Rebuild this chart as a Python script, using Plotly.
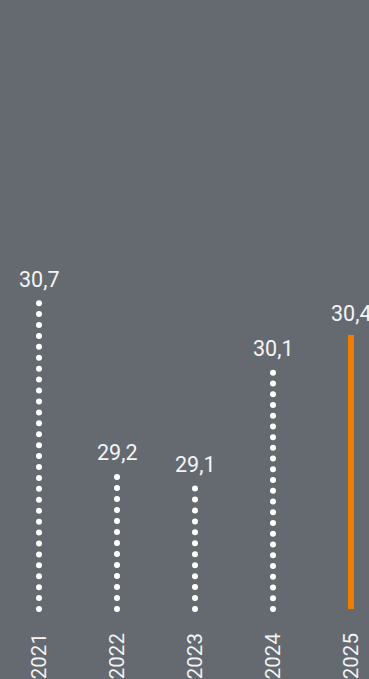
import numpy as np
import plotly.graph_objects as go

years = ["2021", "2022", "2023", "2024", "2025"]
values = [30.7, 29.2, 29.1, 30.1, 30.4]
labels = ["30,7", "29,2", "29,1", "30,1", "30,4"]
highlight = [False, False, False, False, True]

BASE = 28.0
BG = "#646a70"
ORANGE = "#f07d00"
PX_PER_UNIT = 116.25
PLOT_H = 618
DOT_SPACING_PX = 10.8
BAR_FOOT = BASE + 7 / PX_PER_UNIT

fig = go.Figure()
for i, (yr, v, hl) in enumerate(zip(years, values, highlight)):
    if hl:
        fig.add_trace(go.Scatter(x=[i, i], y=[BAR_FOOT, v + 3 / PX_PER_UNIT], mode="lines",
                                 line=dict(color=ORANGE, width=6), hoverinfo="skip"))
    else:
        n = int(round((v - BAR_FOOT) * PX_PER_UNIT / DOT_SPACING_PX)) + 1
        ys = np.linspace(BAR_FOOT, v, n)
        fig.add_trace(go.Scatter(x=[i] * n, y=ys, mode="markers",
                                 marker=dict(color="white", size=6, line=dict(width=0)),
                                 hoverinfo="skip"))
    fig.add_annotation(x=i, y=v, text=labels[i], showarrow=False, yshift=24,
                       font=dict(color="#f4f4f4", size=21.5, family="Roboto"))

fig.update_layout(
    width=369, height=679,
    margin=dict(l=0, r=0, t=0, b=679 - PLOT_H),
    paper_bgcolor=BG, plot_bgcolor=BG,
    showlegend=False,
    xaxis=dict(range=[-0.5, (369 - 39) / 78], tickmode="array",
               tickvals=list(range(len(years))), ticktext=years, tickangle=-90,
               showgrid=False, zeroline=False, showline=False, ticks="",
               ticklabelstandoff=12,
               tickfont=dict(color="#f4f4f4", size=20.5, family="Roboto")),
    yaxis=dict(range=[BASE, BASE + PLOT_H / PX_PER_UNIT], visible=False),
)
fig.write_html("out.html")
